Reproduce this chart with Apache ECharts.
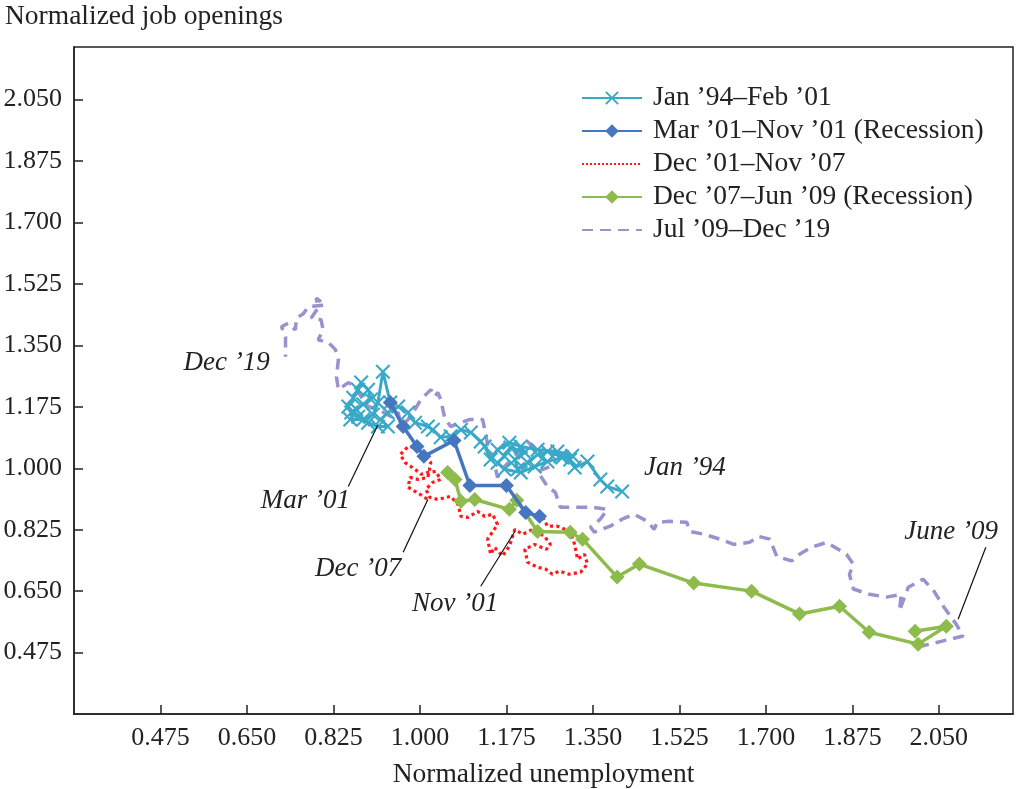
<!DOCTYPE html>
<html>
<head>
<meta charset="UTF-8">
<script src="https://cdn.jsdelivr.net/npm/echarts@6/dist/echarts.min.js"></script>
<style>
    html, body { margin: 0; padding: 0; background: #fff; }
    #chart { width: 1019px; height: 789px; }
</style>
</head>
<body>
<div id="chart"></div>
<script type="text/javascript">
// tick labels (same for both axes)
var xTicks = [0.475, 0.650, 0.825, 1.000, 1.175, 1.350, 1.525, 1.700, 1.875, 2.050];
var yTicks = [0.475, 0.650, 0.825, 1.000, 1.175, 1.350, 1.525, 1.700, 1.875, 2.050];

var seriesNames = ['Jan ’94–Feb ’01', 'Mar ’01–Nov ’01 (Recession)', 'Dec ’01–Nov ’07',
    'Dec ’07–Jun ’09 (Recession)', 'Jul ’09–Dec ’19'];

// [normalized unemployment, normalized job openings]
var jan94feb01 = [
    [1.409, 0.934], [1.379, 0.948], [1.365, 0.968], [1.339, 1.019], [1.313, 1.002], [1.304, 1.025],
    [1.284, 1.034], [1.258, 1.048], [1.238, 1.039], [1.218, 1.016], [1.198, 0.997], [1.192, 1.025],
    [1.212, 1.045], [1.183, 1.059], [1.171, 1.034], [1.157, 1.016], [1.171, 0.997], [1.204, 0.988],
    [1.232, 1.005], [1.258, 1.019], [1.288, 1.031], [1.308, 1.036], [1.278, 1.048], [1.238, 1.053],
    [1.204, 1.062], [1.181, 1.073], [1.157, 1.053], [1.143, 1.025], [1.131, 1.062], [1.123, 1.076],
    [1.103, 1.102], [1.083, 1.110], [1.062, 1.091], [1.042, 1.088], [1.026, 1.110], [1.016, 1.119],
    [0.990, 1.130], [0.976, 1.159], [0.956, 1.176], [0.935, 1.159], [0.921, 1.139], [0.935, 1.119],
    [0.915, 1.119], [0.895, 1.130], [0.875, 1.147], [0.861, 1.159], [0.855, 1.176], [0.865, 1.201],
    [0.875, 1.224], [0.881, 1.244], [0.895, 1.224], [0.901, 1.196], [0.885, 1.182], [0.871, 1.168],
    [0.859, 1.139], [0.885, 1.139], [0.905, 1.153], [0.915, 1.187], [0.925, 1.275], [0.940, 1.187]
];
var mar01nov01 = [
    [0.940, 1.187], [0.966, 1.119], [0.994, 1.062], [1.008, 1.034], [1.069, 1.079],
    [1.101, 0.951], [1.175, 0.951], [1.214, 0.874], [1.242, 0.863]
];
var dec01nov07 = [
    [1.242, 0.877], [1.258, 0.835], [1.278, 0.835], [1.304, 0.820], [1.313, 0.783], [1.319, 0.741],
    [1.333, 0.755], [1.339, 0.727], [1.325, 0.704], [1.302, 0.698], [1.282, 0.707], [1.268, 0.698],
    [1.254, 0.713], [1.238, 0.718], [1.218, 0.732], [1.212, 0.769], [1.232, 0.783], [1.256, 0.769],
    [1.264, 0.783], [1.252, 0.806], [1.228, 0.826], [1.208, 0.812], [1.192, 0.826], [1.181, 0.778],
    [1.167, 0.750], [1.151, 0.775], [1.143, 0.755], [1.137, 0.798], [1.157, 0.840], [1.147, 0.869],
    [1.131, 0.863], [1.117, 0.877], [1.097, 0.860], [1.083, 0.863], [1.077, 0.897], [1.062, 0.920],
    [1.036, 0.911], [1.020, 0.917], [1.012, 0.940], [1.026, 0.960], [1.042, 0.968], [1.032, 0.991],
    [1.016, 0.988], [1.002, 0.983], [0.990, 0.997], [0.970, 1.016], [0.960, 1.039], [0.976, 1.062],
    [0.992, 1.059], [1.010, 1.034], [1.022, 1.016], [1.016, 0.974], [0.996, 0.968], [0.980, 0.974],
    [0.976, 0.946], [1.000, 0.926], [1.016, 0.911]
];
var dec07jun09 = [
    [1.056, 0.988], [1.071, 0.968], [1.083, 0.906], [1.111, 0.911], [1.181, 0.883], [1.196, 0.909],
    [1.238, 0.820], [1.304, 0.818], [1.329, 0.798], [1.399, 0.690], [1.444, 0.727], [1.554, 0.673],
    [1.671, 0.650], [1.768, 0.585], [1.849, 0.607], [1.909, 0.533], [2.008, 0.499], [2.065, 0.550],
    [2.002, 0.536]
];
var jul09dec19 = [
    [2.008, 0.491], [2.099, 0.522], [2.085, 0.556], [2.060, 0.605], [2.040, 0.650], [2.018, 0.684],
    [1.988, 0.661], [1.970, 0.593], [1.974, 0.641], [1.944, 0.633], [1.909, 0.641], [1.877, 0.656],
    [1.869, 0.698], [1.877, 0.727], [1.863, 0.755], [1.823, 0.789], [1.792, 0.775], [1.768, 0.755],
    [1.752, 0.736], [1.722, 0.749], [1.708, 0.798], [1.685, 0.806], [1.667, 0.789], [1.635, 0.783],
    [1.607, 0.798], [1.575, 0.812], [1.546, 0.820], [1.540, 0.846], [1.506, 0.849], [1.480, 0.846],
    [1.474, 0.826], [1.460, 0.849], [1.433, 0.869], [1.409, 0.855], [1.385, 0.835], [1.353, 0.818],
    [1.345, 0.832], [1.365, 0.855], [1.379, 0.883], [1.349, 0.889], [1.325, 0.889], [1.284, 0.889],
    [1.274, 0.931], [1.258, 0.948], [1.238, 0.991], [1.264, 1.005], [1.248, 1.031], [1.218, 1.076],
    [1.192, 1.034], [1.171, 1.005], [1.157, 0.974], [1.151, 1.011], [1.137, 1.068], [1.127, 1.139],
    [1.101, 1.139], [1.083, 1.130], [1.062, 1.119], [1.050, 1.144], [1.042, 1.196], [1.036, 1.216],
    [1.030, 1.204], [1.022, 1.224], [1.002, 1.196], [0.990, 1.168], [0.976, 1.139], [0.962, 1.119],
    [0.956, 1.159], [0.942, 1.147], [0.915, 1.168], [0.895, 1.176], [0.881, 1.204], [0.869, 1.233],
    [0.855, 1.244], [0.835, 1.224], [0.831, 1.261], [0.835, 1.309], [0.829, 1.338], [0.815, 1.358],
    [0.794, 1.366], [0.804, 1.394], [0.800, 1.423], [0.780, 1.428], [0.794, 1.457], [0.790, 1.485],
    [0.808, 1.465], [0.774, 1.460], [0.764, 1.440], [0.750, 1.428], [0.748, 1.394], [0.734, 1.414],
    [0.720, 1.403], [0.728, 1.374], [0.728, 1.318]
];

// annotations: text, text centre, leader line start/end (data units)
var annoText = ['Dec ’19', 'Mar ’01', 'Dec ’07', 'Nov ’01', 'Jan ’94', 'June ’09'];
var annoAt = [[0.609, 1.301], [0.768, 0.906], [0.875, 0.713], [1.071, 0.613], [1.536, 1.000], [2.075, 0.818]];
var leaderFrom = [null, [0.855, 0.948], [0.966, 0.761], [1.123, 0.664], null, [2.145, 0.775]];
var leaderTo = [null, [0.915, 1.124], [1.016, 0.911], [1.192, 0.820], null, [2.089, 0.570]];

var FONT = '"Liberation Serif", "Times New Roman", serif';
var crossPath = 'path://M0,1L1,0L5,4L9,0L10,1L6,5L10,9L9,10L5,6L1,10L0,9L4,5Z';

var myChart = echarts.init(document.getElementById('chart'));

var mkSeries = function (name, data, color, lineType, width, symbol, symbolSize, z) {
    return {
        name: name,
        type: 'line',
        data: data,
        z: z,
        symbol: symbol,
        symbolSize: symbolSize,
        showSymbol: symbol !== 'none',
        itemStyle: { color: color },
        lineStyle: { color: color, width: width, type: lineType },
        emphasis: { disabled: true }
    };
};

var option = {
    animation: false,
    backgroundColor: '#fff',
    grid: {
        left: 74, right: 6, top: 47, bottom: 75, show: true, borderColor: '#222', borderWidth: 1.5,
        containLabel: false, outerBoundsMode: 'none'
    },
    legend: {
        orient: 'vertical',
        left: 576,
        top: 79,
        itemWidth: 60,
        itemHeight: 17,
        itemGap: 5,
        data: [
            { name: seriesNames[0] },
            { name: seriesNames[1] },
            { name: seriesNames[2], itemStyle: { opacity: 0 } },
            { name: seriesNames[3] },
            { name: seriesNames[4], itemStyle: { opacity: 0 } }
        ],
        textStyle: { fontFamily: FONT, fontSize: 27.5, color: '#222', lineHeight: 27, padding: [0, 0, 0, 6] }
    },
    xAxis: {
        type: 'value',
        min: 0.3,
        max: 2.2,
        splitLine: { show: false },
        axisLine: { lineStyle: { color: '#222', width: 1.5 } },
        axisTick: { inside: true, length: 9, customValues: xTicks, lineStyle: { color: '#222', width: 1.5 } },
        axisLabel: {
            customValues: xTicks, margin: 11, color: '#222', fontFamily: FONT, fontSize: 26,
            formatter: function (v) { return v.toFixed(3); }
        },
        name: 'Normalized unemployment',
        nameLocation: 'middle',
        nameGap: 47,
        nameTextStyle: { fontFamily: FONT, fontSize: 27.5, color: '#222' }
    },
    yAxis: {
        type: 'value',
        min: 0.3,
        max: 2.2,
        splitLine: { show: false },
        axisLine: { show: true, lineStyle: { color: '#222', width: 1.5 } },
        axisTick: { show: true, inside: true, length: 9, customValues: yTicks, lineStyle: { color: '#222', width: 1.5 } },
        axisLabel: {
            customValues: yTicks, margin: 12, color: '#222', fontFamily: FONT, fontSize: 26,
            formatter: function (v) { return v.toFixed(3); }
        }
    },
    series: [
        mkSeries(seriesNames[4], jul09dec19, '#9A91CD', [11, 7], 3.5, 'none', 0, 2),
        mkSeries(seriesNames[0], jan94feb01, '#3AA9C8', 'solid', 3, crossPath, 15, 3),
        mkSeries(seriesNames[2], dec01nov07, '#FF1A1A', 'dotted', 3.2, 'none', 0, 4),
        mkSeries(seriesNames[3], dec07jun09, '#8DBB4C', 'solid', 3.5, 'diamond', 15, 5),
        mkSeries(seriesNames[1], mar01nov01, '#4676C0', 'solid', 3.5, 'diamond', 15, 6)
    ]
};
myChart.setOption(option);

// annotations and y axis title placed through the chart's own coordinate conversion
var graphics = [{
    type: 'text', left: 5, top: 3,
    style: { text: 'Normalized job openings', font: '27.5px ' + FONT, fill: '#222' }
}];
for (var i = 0; i < annoText.length; i++) {
    var p = myChart.convertToPixel({ gridIndex: 0 }, annoAt[i]);
    graphics.push({
        type: 'text', x: p[0], y: p[1], z: 10,
        style: { text: annoText[i], font: 'italic 27px ' + FONT, fill: '#222', align: 'center', verticalAlign: 'middle' }
    });
    if (leaderFrom[i]) {
        var a = myChart.convertToPixel({ gridIndex: 0 }, leaderFrom[i]);
        var b = myChart.convertToPixel({ gridIndex: 0 }, leaderTo[i]);
        graphics.push({
            type: 'line', z: 10,
            shape: { x1: a[0], y1: a[1], x2: b[0], y2: b[1] },
            style: { stroke: '#111', lineWidth: 1.2 }
        });
    }
}
myChart.setOption({ graphic: graphics });
</script>
</body>
</html>
